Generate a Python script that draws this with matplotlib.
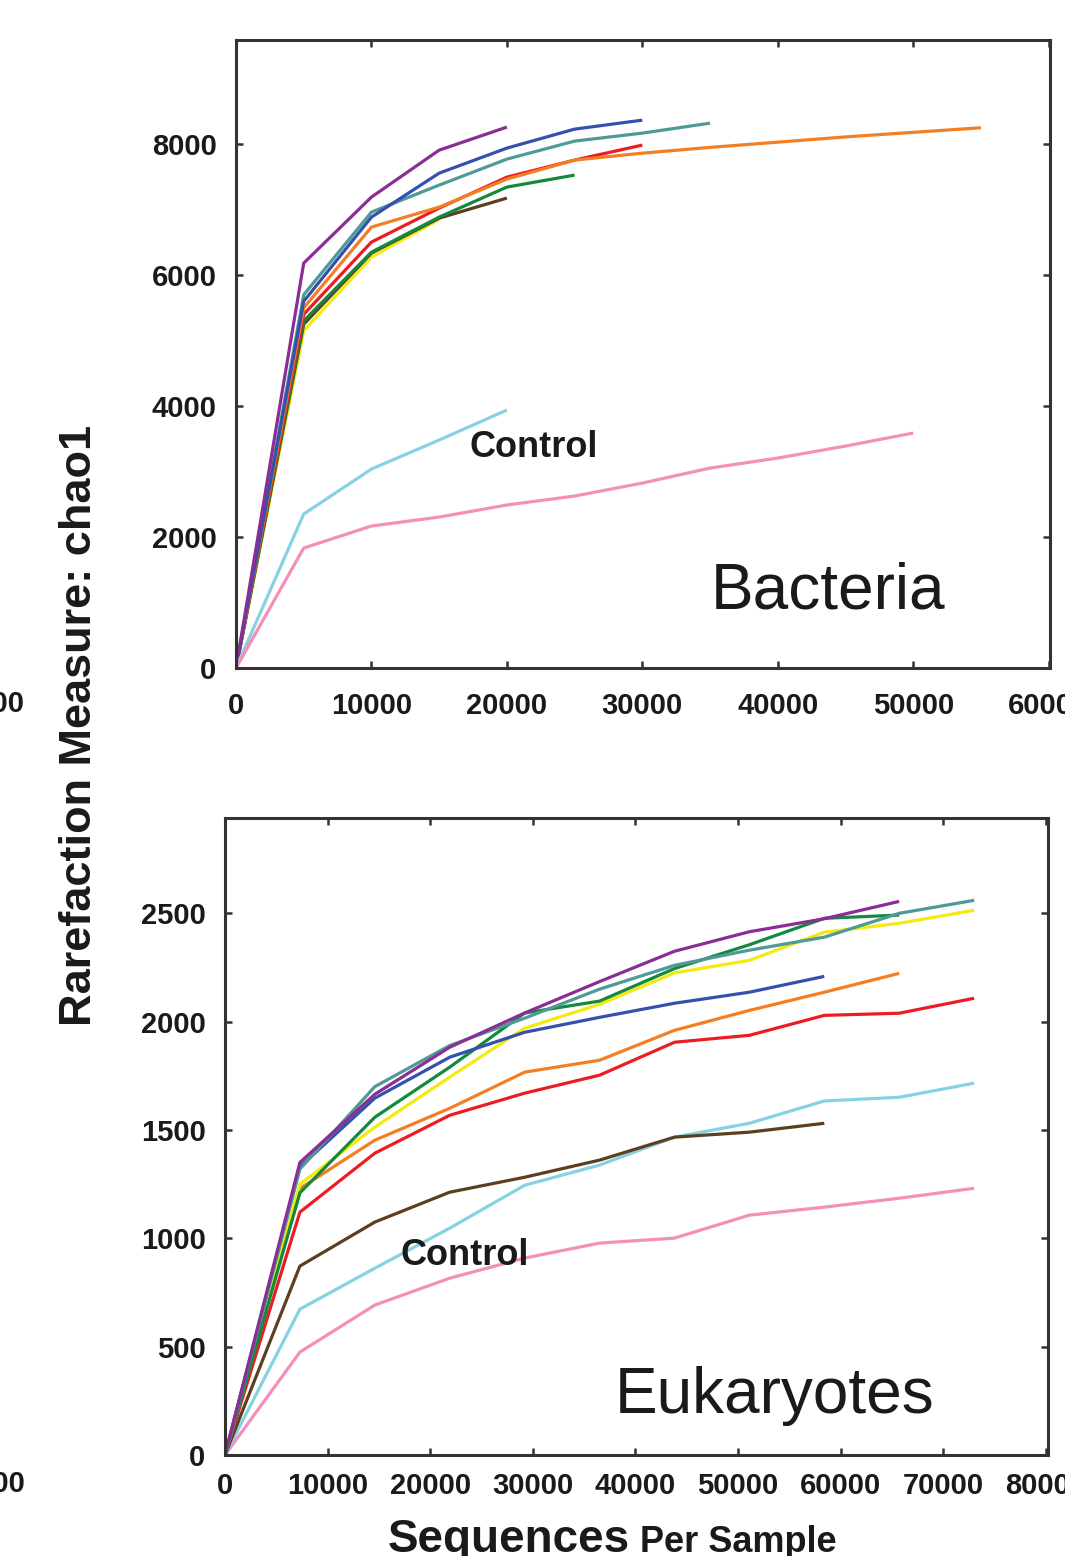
import matplotlib
matplotlib.use("Agg")
import matplotlib.pyplot as plt

plt.rcParams["font.family"] = ["Liberation Sans", "DejaVu Sans"]

# --- Bacteria (chao1 vs sequences per sample) ---
bact_depth = [0, 5000, 10000, 15000, 20000, 25000, 30000, 35000, 40000, 45000, 50000, 55000]
bact_yellow = [0, 5150, 6275, 6850]
bact_brown = [0, 5250, 6336, 6870, 7176]
bact_green = [0, 5300, 6350, 6885, 7344, 7527]
bact_red = [0, 5400, 6504, 7023, 7496, 7756, 7985]
bact_orange = [0, 5500, 6733, 7038, 7466, 7756, 7862, 7950, 8030, 8110, 8180, 8250]
bact_teal = [0, 5700, 6962, 7374, 7771, 8046, 8168, 8320]
bact_blue = [0, 5600, 6885, 7557, 7939, 8229, 8366]
bact_purple = [0, 6183, 7191, 7908, 8260]
bact_cyan = [0, 2351, 3038, 3481, 3939]
bact_pink = [0, 1832, 2168, 2305, 2489, 2626, 2824, 3053, 3206, 3389, 3588]

# --- Eukaryotes ---
euk_depth = [0, 7300, 14600, 21900, 29200, 36500, 43800, 51100, 58400, 65700, 73000]
euk_pink = [0, 475, 692, 816, 909, 978, 1001, 1107, 1144, 1185, 1231]
euk_cyan = [0, 673, 862, 1047, 1245, 1338, 1467, 1531, 1634, 1651, 1716]
euk_brown = [0, 872, 1075, 1213, 1282, 1361, 1467, 1490, 1531]
euk_red = [0, 1121, 1393, 1568, 1670, 1753, 1905, 1937, 2029, 2039, 2108]
euk_orange = [0, 1230, 1453, 1600, 1767, 1822, 1960, 2052, 2136, 2223]
euk_yellow = [0, 1250, 1513, 1744, 1970, 2080, 2225, 2283, 2413, 2454, 2514]
euk_green = [0, 1210, 1559, 1790, 2040, 2095, 2245, 2355, 2477, 2492]
euk_blue = [0, 1330, 1647, 1836, 1951, 2020, 2085, 2136, 2209]
euk_teal = [0, 1320, 1700, 1890, 2016, 2150, 2260, 2330, 2390, 2500, 2560]
euk_purple = [0, 1350, 1665, 1882, 2040, 2185, 2325, 2415, 2475, 2555]

C = {
    "purple": "#8a2d96", "blue": "#3550ad", "teal": "#4d9a97",
    "orange": "#f47f22", "red": "#ec1c24", "green": "#13893c",
    "brown": "#5b3f1f", "yellow": "#f3ea10", "cyan": "#86d2e2",
    "pink": "#f38fba",
}

bact_series = [
    ("yellow", bact_yellow), ("brown", bact_brown), ("green", bact_green),
    ("red", bact_red), ("orange", bact_orange), ("teal", bact_teal),
    ("blue", bact_blue), ("purple", bact_purple), ("cyan", bact_cyan),
    ("pink", bact_pink),
]
euk_series = [
    ("pink", euk_pink), ("cyan", euk_cyan), ("brown", euk_brown),
    ("red", euk_red), ("orange", euk_orange), ("yellow", euk_yellow),
    ("green", euk_green), ("blue", euk_blue), ("teal", euk_teal),
    ("purple", euk_purple),
]

W, H = 1065, 1556
fig = plt.figure(figsize=(W / 100, H / 100), dpi=100)


def px_axes(l, t, r, b):
    return fig.add_axes([l / W, 1 - b / H, (r - l) / W, (b - t) / H])


def style(ax, xpad, ypad):
    for s in ax.spines.values():
        s.set_linewidth(2.2)
        s.set_color("#333333")
    ax.tick_params(direction="in", length=5, width=1.8, color="#333333",
                   top=True, right=True, labelsize=21)
    ax.tick_params(axis="x", pad=xpad)
    ax.tick_params(axis="y", pad=ypad)
    for lab in ax.get_xticklabels() + ax.get_yticklabels():
        lab.set_fontweight("bold")
        lab.set_color("#1a1a1a")


# top panel
ax1 = px_axes(236, 40, 1050, 668)
for name, vals in bact_series:
    ax1.plot(bact_depth[:len(vals)], vals, color=C[name], lw=2.3,
             solid_joinstyle="round", solid_capstyle="butt")
ax1.set_xlim(0, 60100)
ax1.set_ylim(0, 9590)
ax1.set_xticks([0, 10000, 20000, 30000, 40000, 50000, 60000])
ax1.set_yticks([0, 2000, 4000, 6000, 8000])
style(ax1, 17, 14)
ax1.text(22000, 3220, "Control", fontsize=26, fontweight="bold", ha="center",
         va="baseline", color="#1a1a1a")
ax1.text(43700, 916, "Bacteria", fontsize=46, ha="center", va="baseline",
         color="#1a1a1a")

# bottom panel
ax2 = px_axes(225, 818, 1048, 1455)
for name, vals in euk_series:
    ax2.plot(euk_depth[:len(vals)], vals, color=C[name], lw=2.3,
             solid_joinstyle="round", solid_capstyle="butt")
ax2.set_xlim(0, 80200)
ax2.set_ylim(0, 2940)
ax2.set_xticks([0, 10000, 20000, 30000, 40000, 50000, 60000, 70000, 80000])
ax2.set_yticks([0, 500, 1000, 1500, 2000, 2500])
style(ax2, 12, 14)
ax2.text(23400, 876, "Control", fontsize=26, fontweight="bold", ha="center",
         va="baseline", color="#1a1a1a")
ax2.text(53600, 195, "Eukaryotes", fontsize=46, ha="center", va="baseline",
         color="#1a1a1a")

# axis titles
fig.text(80 / W, 1 - 725 / H, "Rarefaction Measure: chao1", rotation=90,
         fontsize=32.5, fontweight="bold", ha="center", va="center",
         color="#1a1a1a")
fig.text(388 / W, 1 - 1552 / H, "Sequences", fontsize=33, fontweight="bold",
         ha="left", va="baseline", color="#1a1a1a")
fig.text(640 / W, 1 - 1552 / H, "Per Sample", fontsize=26, fontweight="bold",
         ha="left", va="baseline", color="#1a1a1a")

# tick labels of neighbouring panels cut off by the crop
fig.text(25 / W, 1 - 704 / H, "6000", fontsize=21, fontweight="bold",
         ha="right", va="center", color="#1a1a1a")
fig.text(25 / W, 1 - 1484 / H, "8000", fontsize=21, fontweight="bold",
         ha="right", va="center", color="#1a1a1a")

fig.savefig("out.png", dpi=100)
